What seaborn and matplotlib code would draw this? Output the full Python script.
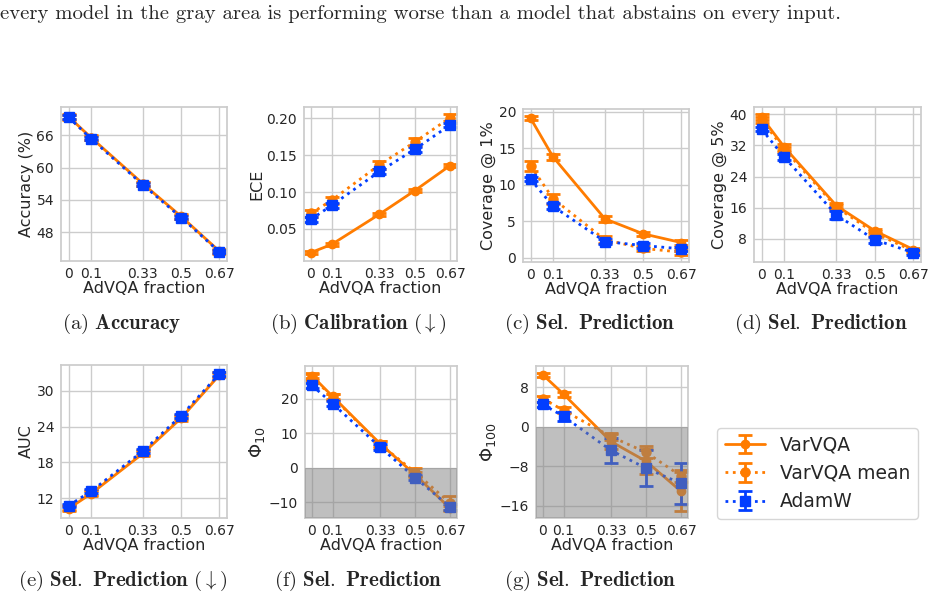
import matplotlib
matplotlib.use("Agg")
import matplotlib.pyplot as plt
import seaborn as sns

fractions = [0, 0.1, 0.33, 0.5, 0.67]
xtick_labels = ["0", "0.1", "0.33", "0.5", "0.67"]
series_names = ["VarVQA", "VarVQA mean", "AdamW"]

# Accuracy (%)
acc_var = [69.5, 65.6, 57.0, 50.9, 44.4]
acc_var_err = [0.5, 0.4, 0.4, 0.4, 0.4]
acc_mean = [69.4, 65.5, 56.9, 50.8, 44.3]
acc_mean_err = [0.5, 0.4, 0.4, 0.4, 0.4]
acc_adamw = [69.4, 65.4, 56.8, 50.7, 44.3]
acc_adamw_err = [0.4, 0.3, 0.3, 0.3, 0.3]

# ECE
ece_var = [0.018, 0.029, 0.070, 0.102, 0.136]
ece_var_err = [0.002, 0.002, 0.002, 0.002, 0.002]
ece_mean = [0.071, 0.089, 0.137, 0.168, 0.201]
ece_mean_err = [0.005, 0.005, 0.005, 0.005, 0.005]
ece_adamw = [0.063, 0.082, 0.128, 0.158, 0.191]
ece_adamw_err = [0.003, 0.003, 0.003, 0.003, 0.003]

# Coverage @ 1%
cov1_var = [19.1, 13.8, 5.35, 3.3, 2.1]
cov1_var_err = [0.3, 0.4, 0.4, 0.3, 0.3]
cov1_mean = [12.6, 8.1, 2.5, 1.3, 0.8]
cov1_mean_err = [0.7, 0.7, 0.5, 0.4, 0.4]
cov1_adamw = [10.75, 7.05, 2.25, 1.7, 1.25]
cov1_adamw_err = [0.3, 0.4, 0.3, 0.3, 0.3]

# Coverage @ 5%
cov5_var = [39.3, 31.6, 16.5, 10.0, 5.2]
cov5_var_err = [0.8, 0.7, 0.6, 0.6, 0.5]
cov5_mean = [38.6, 31.0, 16.1, 9.4, 4.8]
cov5_mean_err = [0.8, 0.7, 0.6, 0.6, 0.5]
cov5_adamw = [36.2, 29.0, 14.1, 7.7, 4.4]
cov5_adamw_err = [0.5, 0.8, 1.0, 0.8, 0.6]

# AUC
auc_var = [10.3, 12.8, 19.5, 25.4, 32.6]
auc_var_err = [0.4, 0.4, 0.4, 0.4, 0.4]
auc_mean = [10.5, 13.0, 19.7, 25.6, 32.7]
auc_mean_err = [0.4, 0.4, 0.4, 0.4, 0.4]
auc_adamw = [10.8, 13.2, 19.9, 25.8, 32.8]
auc_adamw_err = [0.3, 0.3, 0.3, 0.3, 0.3]

# Phi_10
phi10_var = [26.7, 20.7, 7.0, -2.0, -11.8]
phi10_var_err = [0.8, 0.8, 0.8, 0.8, 0.8]
phi10_mean = [26.3, 20.5, 6.8, -1.3, -10.3]
phi10_mean_err = [1.0, 1.0, 1.0, 1.2, 2.0]
phi10_adamw = [23.9, 18.6, 6.0, -2.9, -11.4]
phi10_adamw_err = [0.7, 0.8, 0.8, 0.8, 1.0]

# Phi_100
phi100_var = [10.5, 6.6, -3.0, -7.0, -13.1]
phi100_var_err = [0.4, 0.5, 1.6, 2.5, 4.0]
phi100_mean = [5.7, 3.3, -2.0, -5.2, -10.0]
phi100_mean_err = [0.6, 0.6, 0.7, 1.2, 1.3]
phi100_adamw = [4.5, 2.1, -4.8, -8.4, -11.5]
phi100_adamw_err = [0.5, 0.9, 2.5, 3.7, 4.2]

top_text = ("every model in the gray area is performing worse than a model "
            "that abstains on every input.")

PANELS = [
    # (pixel box l, t, r, b), ylabel, yticks, data, gray, caption, caption x
    ((61, 107, 227, 261), "Accuracy (%)", [48, 54, 60, 66],
     [(acc_var, acc_var_err), (acc_mean, acc_mean_err), (acc_adamw, acc_adamw_err)],
     False, r"$\mathrm{(a)}\ \mathbf{Accuracy}$", 122),
    ((304, 107, 457, 261), "ECE", [0.05, 0.10, 0.15, 0.20],
     [(ece_var, ece_var_err), (ece_mean, ece_mean_err), (ece_adamw, ece_adamw_err)],
     False, r"$\mathrm{(b)}\ \mathbf{Calibration}\ (\downarrow)$", 358),
    ((523, 109, 689, 262), "Coverage @ 1%", [0, 5, 10, 15, 20],
     [(cov1_var, cov1_var_err), (cov1_mean, cov1_mean_err), (cov1_adamw, cov1_adamw_err)],
     False, r"$\mathrm{(c)}\ \mathbf{Sel.\ Prediction}$", 590),
    ((754, 107, 921, 262), "Coverage @ 5%", [8, 16, 24, 32, 40],
     [(cov5_var, cov5_var_err), (cov5_mean, cov5_mean_err), (cov5_adamw, cov5_adamw_err)],
     False, r"$\mathrm{(d)}\ \mathbf{Sel.\ Prediction}$", 821),
    ((61, 365, 227, 518), "AUC", [12, 18, 24, 30],
     [(auc_var, auc_var_err), (auc_mean, auc_mean_err), (auc_adamw, auc_adamw_err)],
     False, r"$\mathrm{(e)}\ \mathbf{Sel.\ Prediction}\ (\downarrow)$", 123),
    ((305, 366, 457, 518), r"$\Phi_{10}$", [-10, 0, 10, 20],
     [(phi10_var, phi10_var_err), (phi10_mean, phi10_mean_err), (phi10_adamw, phi10_adamw_err)],
     True, r"$\mathrm{(f)}\ \mathbf{Sel.\ Prediction}$", 358),
    ((536, 366, 688, 518), r"$\Phi_{100}$", [-16, -8, 0, 8],
     [(phi100_var, phi100_var_err), (phi100_mean, phi100_mean_err), (phi100_adamw, phi100_adamw_err)],
     True, r"$\mathrm{(g)}\ \mathbf{Sel.\ Prediction}$", 590),
]

W, H = 936, 599

sns.set_theme(style="whitegrid")
palette = sns.color_palette("bright")
ORANGE, BLUE = palette[1], palette[0]
STYLES = [
    dict(color=ORANGE, ls="-", marker="o", ms=6),
    dict(color=ORANGE, ls=":", marker="o", ms=6.5),
    dict(color=BLUE, ls=":", marker="s", ms=7),
]


def main() -> None:
    fig = plt.figure(figsize=(W / 100, H / 100), dpi=100)
    handles = []
    for box, ylabel, yticks, data, gray, caption, cap_x in PANELS:
        l, t, r, b = box
        ax = fig.add_axes([l / W, 1 - b / H, (r - l) / W, (b - t) / H])
        handles = []
        for (vals, errs), st in zip(data, STYLES):
            h = ax.errorbar(
                fractions, vals, yerr=errs, color=st["color"], ls=st["ls"],
                marker=st["marker"], ms=st["ms"], lw=2, elinewidth=2,
                capsize=5, capthick=2,
            )
            handles.append(h)
        if gray:
            lo, hi = ax.get_ylim()
            ax.axhspan(lo, 0, color="gray", alpha=0.5, lw=0, zorder=10)
            ax.set_ylim(lo, hi)
        ax.set_xticks(fractions)
        ax.set_xticklabels(xtick_labels)
        ax.set_yticks(yticks)
        if isinstance(yticks[0], float):
            ax.set_yticklabels([f"{v:.2f}" for v in yticks])
        ax.tick_params(axis="x", labelsize=10, length=0, pad=4)
        ax.tick_params(axis="y", labelsize=10, length=0, pad=5)
        ax.set_xlabel("AdVQA fraction", fontsize=11.5, labelpad=0)
        ylab_size = 13 if ylabel.startswith("$") else 11.5
        ax.set_ylabel(ylabel, fontsize=ylab_size, labelpad=1.5)
        fig.text(cap_x / W, 1 - (324 if t < 300 else 581) / H, caption,
                 ha="center", va="center", fontsize=15, math_fontfamily="cm")

    fig.text(0.0, 1 - 14 / H, top_text, ha="left", va="center",
             fontsize=14.9, family="cmr10")

    fig.legend(handles, series_names, loc="upper left",
               bbox_to_anchor=(717 / W, 1 - 428 / H), borderaxespad=0,
               fontsize=13.5, frameon=True, borderpad=0.4,
               labelspacing=0.5, handlelength=2.15, handletextpad=0.8)
    fig.savefig("out.png", dpi=100)
    plt.close(fig)


if __name__ == "__main__":
    main()
